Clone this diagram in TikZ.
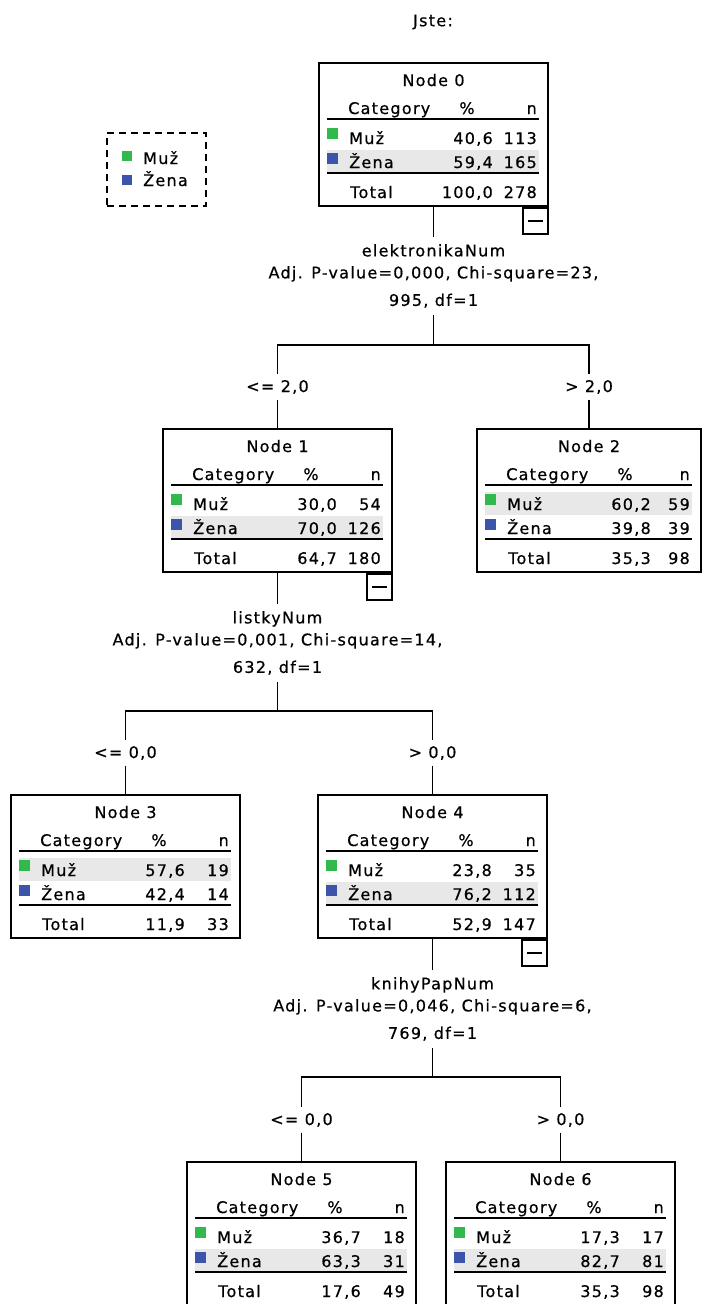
\documentclass[tikz,border=0pt]{standalone}
\usepackage{fontspec}
\usepackage{tikz}

\newfontfamily\spssfont{DejaVu Sans}[LetterSpace=8, FakeBold=0.6]
\definecolor{muzgreen}{RGB}{50,185,75}
\definecolor{zenablue}{RGB}{60,85,170}
\definecolor{rowgray}{RGB}{232,232,232}

% #1 box width, #2 node number, #3 top of grey row, #4-#9 values
\newcommand{\catnode}[9][229]{%
	\fill[rowgray] (8,#3) rectangle (#1-9,#3+23);
	\node[catbox, minimum width=#1pt] (n#2) at (#1/2,71.5) {};
	\node[celltext, anchor=base] (n#2t) at (#1/2,23) {Node #2};
	\node[celltext, anchor=base west] (n#2ha) at (29,51) {Category};
	\node[celltext, anchor=base] (n#2hb) at (148,51) {\%};
	\node[celltext, anchor=base east] (n#2hc) at (#1-11,51) {n};
	\draw[rule] (8,56) -- (#1-9,56);
	\fill[muzgreen] (8,65) rectangle (19,76);
	\node[celltext, anchor=base west] (n#2m) at (30,81) {Muž};
	\node[celltext, anchor=base east] (n#2mp) at (174,81) {#4};
	\node[celltext, anchor=base east] (n#2mn) at (#1-11,81) {#5};
	\fill[zenablue] (8,90) rectangle (19,101);
	\node[celltext, anchor=base west] (n#2z) at (30,105) {Žena};
	\node[celltext, anchor=base east] (n#2zp) at (174,105) {#6};
	\node[celltext, anchor=base east] (n#2zn) at (#1-11,105) {#7};
	\draw[rule] (8,110) -- (#1-9,110);
	\node[celltext, anchor=base west] (n#2s) at (31,135) {Total};
	\node[celltext, anchor=base east] (n#2sp) at (174,135) {#8};
	\node[celltext, anchor=base east] (n#2sn) at (#1-11,135) {#9};
}
\newcommand{\foldmark}[1]{%
	\node[foldbox, anchor=north east] (n#1f) at (n#1.south east) {};
	\draw[rule] ([xshift=6pt]n#1f.west) -- ([xshift=-6pt]n#1f.east);
}

\begin{document}
\begin{tikzpicture}[x=1pt, y=-1pt,
	every node/.style={font=\spssfont\fontsize{16}{22}\selectfont},
	celltext/.style={inner sep=0pt},
	catbox/.style={draw, line width=1.8pt, minimum height=143pt, inner sep=0pt},
	foldbox/.style={draw, line width=1.8pt, minimum width=25pt, minimum height=26pt, inner sep=0pt},
	rule/.style={line width=1.8pt},
	stem/.style={line width=1.8pt},
	splitlabel/.style={align=center, inner xsep=0pt, inner ysep=7pt},
	branchlabel/.style={inner sep=0pt, minimum height=25pt},
	legendbox/.style={draw, dash pattern=on 7pt off 5pt, line width=1.8pt, minimum width=99pt, minimum height=73pt}]
	\useasboundingbox (0,0) rectangle (702,1304);

	\node[celltext] (title) at (433,22) {Jste:};

	% legend
	\node[legendbox] (legend) at (156.5,169.5) {};
	\fill[muzgreen] (122,151) rectangle (132,161);
	\node[celltext, anchor=base west] (lgm) at (143,164) {Muž};
	\fill[zenablue] (122,175) rectangle (132,185);
	\node[celltext, anchor=base west] (lgz) at (143,186) {Žena};

	% tree boxes
	\begin{scope}[shift={(319,63)}]
		\catnode{0}{87}{40,6}{113}{59,4}{165}{100,0}{278}
	\end{scope}
	\begin{scope}[shift={(163,429)}]
		\catnode{1}{87}{30,0}{54}{70,0}{126}{64,7}{180}
	\end{scope}
	\begin{scope}[shift={(477,429)}]
		\catnode[224]{2}{63}{60,2}{59}{39,8}{39}{35,3}{98}
	\end{scope}
	\begin{scope}[shift={(11,795)}]
		\catnode{3}{63}{57,6}{19}{42,4}{14}{11,9}{33}
	\end{scope}
	\begin{scope}[shift={(318,795)}]
		\catnode{4}{87}{23,8}{35}{76,2}{112}{52,9}{147}
	\end{scope}
	\begin{scope}[shift={(187,1162)}]
		\catnode{5}{87}{36,7}{18}{63,3}{31}{17,6}{49}
	\end{scope}
	\begin{scope}[shift={(446,1162)}]
		\catnode{6}{87}{17,3}{17}{82,7}{81}{35,3}{98}
	\end{scope}
	\foldmark{0}
	\foldmark{1}
	\foldmark{4}

	% split on node 0
	\node[splitlabel, anchor=north] (s0) at (433.5,237) {elektronikaNum\\Adj. P-value=0,000, Chi-square=23,\\[5.5pt]995, df=1};
	\coordinate (j0) at (433.5,345);
	\node[branchlabel] (b1) at (277.5,387) {<= 2,0};
	\node[branchlabel] (b2) at (589,387) {> 2,0};
	\draw[stem] (n0.south) -- (s0.north);
	\draw[stem] (s0.south) -- (j0);
	\draw[stem] (j0) -| (b1.north);
	\draw[stem] (j0) -| (b2.north);
	\draw[stem] (b1.south) -- (n1.north);
	\draw[stem] (b2.south) -- (n2.north);

	% split on node 1
	\node[splitlabel, anchor=north] (s1) at (277.5,604) {listkyNum\\Adj. P-value=0,001, Chi-square=14,\\[5.5pt]632, df=1};
	\coordinate (j1) at (277.5,711);
	\node[branchlabel] (b3) at (125.5,753) {<= 0,0};
	\node[branchlabel] (b4) at (432.5,753) {> 0,0};
	\draw[stem] (n1.south) -- (s1.north);
	\draw[stem] (s1.south) -- (j1);
	\draw[stem] (j1) -| (b3.north);
	\draw[stem] (j1) -| (b4.north);
	\draw[stem] (b3.south) -- (n3.north);
	\draw[stem] (b4.south) -- (n4.north);

	% split on node 4
	\node[splitlabel, anchor=north] (s4) at (432.5,970) {knihyPapNum\\Adj. P-value=0,046, Chi-square=6,\\[5.5pt]769, df=1};
	\coordinate (j4) at (432.5,1077);
	\node[branchlabel] (b5) at (301.5,1120) {<= 0,0};
	\node[branchlabel] (b6) at (560.5,1120) {> 0,0};
	\draw[stem] (n4.south) -- (s4.north);
	\draw[stem] (s4.south) -- (j4);
	\draw[stem] (j4) -| (b5.north);
	\draw[stem] (j4) -| (b6.north);
	\draw[stem] (b5.south) -- (n5.north);
	\draw[stem] (b6.south) -- (n6.north);
\end{tikzpicture}
\end{document}
